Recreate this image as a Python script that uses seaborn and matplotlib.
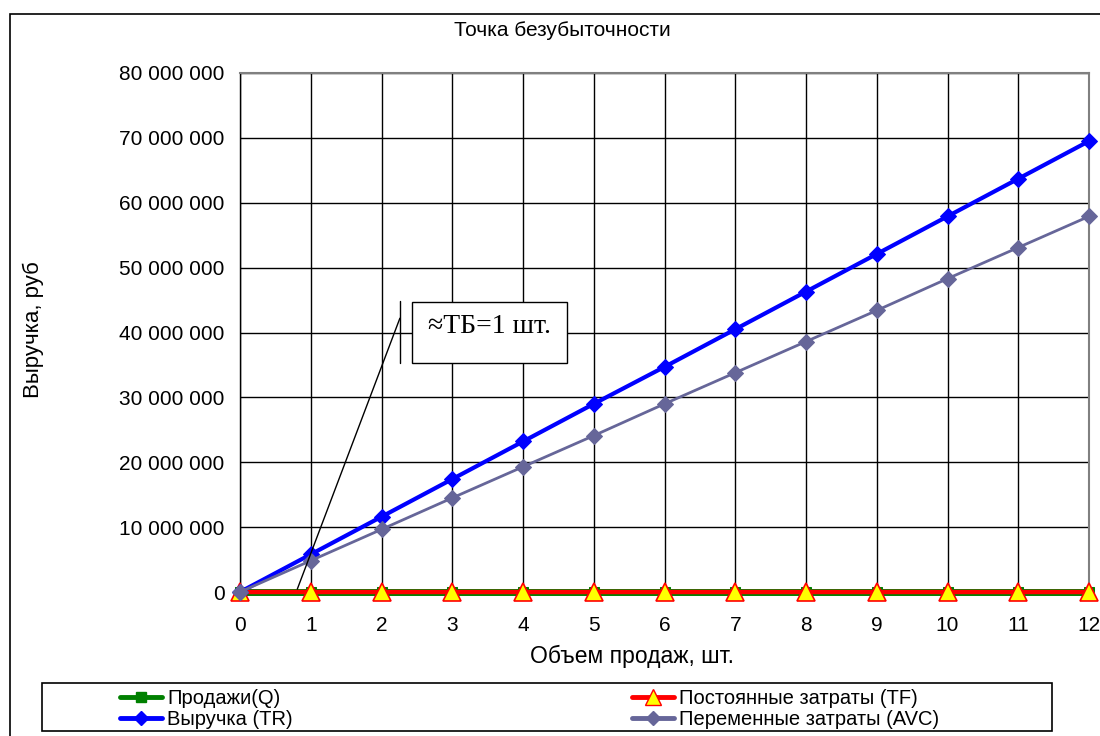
import matplotlib
matplotlib.use("Agg")
import matplotlib.pyplot as plt
from matplotlib.patches import Rectangle
from matplotlib.lines import Line2D
from matplotlib.ticker import FuncFormatter, MultipleLocator
import seaborn as sns
import pandas as pd

sns.set_style("white")
plt.rcParams['font.family'] = ['Liberation Sans', 'DejaVu Sans']
plt.rcParams['text.color'] = 'black'
plt.rcParams['xtick.color'] = 'black'
plt.rcParams['ytick.color'] = 'black'
plt.rcParams['axes.labelcolor'] = 'black'

# ---- data ----
volume = list(range(13))
sales_q = list(range(13))
fixed_tf = [0] * 13
revenue_tr = [0, 5.8e6, 11.6e6, 17.4e6, 23.2e6, 29.0e6, 34.7e6, 40.5e6,
              46.3e6, 52.1e6, 57.9e6, 63.7e6, 69.5e6]
variable_avc = [0, 4.83e6, 9.65e6, 14.5e6, 19.3e6, 24.1e6, 29.0e6, 33.8e6,
                38.6e6, 43.4e6, 48.3e6, 53.1e6, 57.9e6]

title = "Точка безубыточности"
xlabel = "Объем продаж, шт."
ylabel = "Выручка, руб"
labels = ["Продажи(Q)", "Постоянные затраты (TF)", "Выручка (TR)", "Переменные затраты (AVC)"]
note = "≈ТБ=1 шт."

df = pd.DataFrame({"x": volume, "Q": sales_q, "TF": fixed_tf,
                   "TR": revenue_tr, "AVC": variable_avc})

fig = plt.figure(figsize=(11, 7.36), dpi=100)
ax = fig.add_axes([240/1100, 1-592/736, (1089-240)/1100, (592-73)/736])

avc_col = "#666699"
sns.lineplot(data=df, x="x", y="Q", ax=ax, color="#008000", lw=5,
             marker="s", markersize=7, markeredgecolor="#008000", clip_on=False, zorder=4)
sns.lineplot(data=df, x="x", y="TF", ax=ax, color="#ff0000", lw=3.2,
             marker="^", markersize=13, markerfacecolor="#ffff00",
             markeredgecolor="#ff0000", markeredgewidth=1.2, clip_on=False, zorder=5)
sns.lineplot(data=df, x="x", y="TR", ax=ax, color="#0000ff", lw=3,
             marker="D", markersize=8.5, markeredgecolor="#0000ff", clip_on=False, zorder=6)
sns.lineplot(data=df, x="x", y="AVC", ax=ax, color=avc_col, lw=2,
             marker="D", markersize=8, markeredgecolor=avc_col, clip_on=False, zorder=7)

ax.set_xlim(0, 12)
ax.set_ylim(0, 80e6)
ax.xaxis.set_major_locator(MultipleLocator(1))
ax.yaxis.set_major_locator(MultipleLocator(10e6))
ax.yaxis.set_major_formatter(FuncFormatter(lambda v, p: f"{v:,.0f}".replace(",", " ")))
ax.grid(True, color="black", lw=1)
ax.set_axisbelow(True)
ax.tick_params(axis="both", which="major", direction="out", length=5, width=1,
               color="black", labelsize=15)
ax.tick_params(axis="x", pad=12)
ax.tick_params(axis="y", pad=6)
for s in ["left", "bottom"]:
    ax.spines[s].set_color("black"); ax.spines[s].set_linewidth(1)
for s in ["top", "right"]:
    ax.spines[s].set_color("#808080"); ax.spines[s].set_linewidth(1.5)

ax.set_xlabel("")
ax.set_ylabel("")
fig.text(632/1100, 1-656/736, xlabel, fontsize=16.5, ha="center", va="center")
fig.text(33/1100, 1-330/736, ylabel, rotation=90, fontsize=16, ha="center", va="center")
fig.text(562/1100, 1-31/736, title, fontsize=15, ha="center", va="center")

# annotation
ax.plot([0.81, 2.26], [0.45e6, 42.2e6], color="black", lw=1, zorder=8)
ax.plot([2.26, 2.26], [35.3e6, 44.8e6], color="black", lw=1, zorder=8)
ax.add_patch(Rectangle((2.43, 35.3e6), 2.19, 9.4e6, facecolor="white",
                       edgecolor="black", lw=1, zorder=8))
ax.text(3.53, 41.0e6, note, fontsize=20, family=["Liberation Serif", "DejaVu Serif"],
        ha="center", va="center", zorder=9)

# outer frame
fig.patches.append(Rectangle((10/1100, -0.05), 1.2, 1.05 - 14/736, transform=fig.transFigure,
                             fill=False, edgecolor="black", lw=1.2))
# legend frame
fig.patches.append(Rectangle((42/1100, 1-731/736), (1052-42)/1100, (731-683)/736,
                             transform=fig.transFigure, fill=False, edgecolor="black", lw=1.2))

h_q = Line2D([], [], color="#008000", lw=3.5, marker="s", markersize=7)
h_tf = Line2D([], [], color="#ff0000", lw=3.5, marker="^", markersize=11,
              markerfacecolor="#ffff00", markeredgecolor="#ff0000")
h_tr = Line2D([], [], color="#0000ff", lw=3.5, marker="D", markersize=7)
h_avc = Line2D([], [], color=avc_col, lw=3.5, marker="D", markersize=7)

kw = dict(frameon=False, fontsize=14.5, handlelength=2.1, handletextpad=0.25,
          labelspacing=0.1, borderpad=0, borderaxespad=0, loc="upper left")
fig.legend([h_q, h_tr], [labels[0], labels[2]],
           bbox_to_anchor=(120/1100, 1-689/736), **kw)
fig.legend([h_tf, h_avc], [labels[1], labels[3]],
           bbox_to_anchor=(632/1100, 1-689/736), **kw)

fig.savefig("out.png", dpi=100)
